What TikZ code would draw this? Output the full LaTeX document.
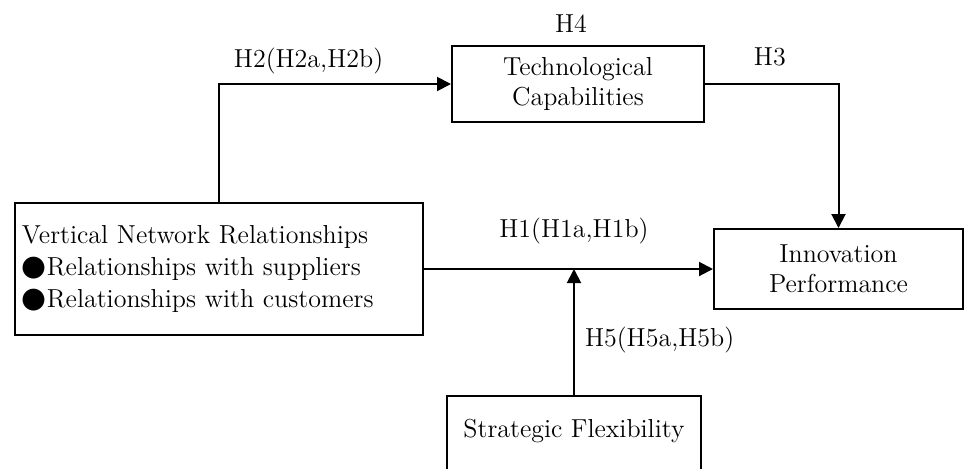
\documentclass[tikz,border=0pt]{standalone}
\usepackage{fontspec}
\newfontfamily\dotfont{DejaVu Sans}[Scale=1.1]
\usetikzlibrary{arrows.meta}

\begin{document}
\begin{tikzpicture}[x=0.5pt,y=-0.5pt,>={Triangle[length=7pt,width=7pt]},line width=1pt,
                    font=\fontsize{13}{15}\selectfont,
                    main node/.style={rectangle,draw,inner sep=0pt,align=center},
                    hyp/.style={anchor=base,inner sep=0pt}]
  \useasboundingbox (0,0) rectangle (966,468);
  \node[main node,minimum width=204pt,minimum height=66pt,text width=197pt,inner xsep=3.5pt,
        align=left,font=\fontsize{13}{16}\selectfont] (vnr) at (219,269)
        {Vertical Network Relationships\\{\dotfont ●}Relationships with suppliers\\{\dotfont ●}Relationships with customers};
  \node[main node,minimum width=126pt,minimum height=38pt,
        label={[hyp,yshift=6.25pt,xshift=-3.5pt]above:H4}] (tc) at (578,84) {Technological\\Capabilities};
  \node[main node,minimum width=124.5pt,minimum height=40pt] (ip) at (838.5,269) {Innovation\\Performance};
  \node[main node,anchor=north,minimum width=127pt,text height=20.75pt,text depth=20pt] (sf) at (574,395) {Strategic Flexibility};
  \coordinate (join) at (sf.north |- vnr.east);
  % paths between the constructs
  \draw[->] (vnr.north) |- node[hyp,pos=0.693,yshift=8.5pt] {H2(H2a,H2b)} (tc.west);
  \draw[->] (tc.east) -| node[hyp,pos=0.243,yshift=9.5pt] {H3} (ip.north);
  \draw[->] (vnr.east) -- node[hyp,pos=0.519,yshift=15.75pt] {H1(H1a,H1b)} (ip.west);
  \draw[->] (sf.north) -- node[hyp,anchor=base west,pos=0.385,xshift=5pt] {H5(H5a,H5b)} (join);
\end{tikzpicture}
\end{document}
